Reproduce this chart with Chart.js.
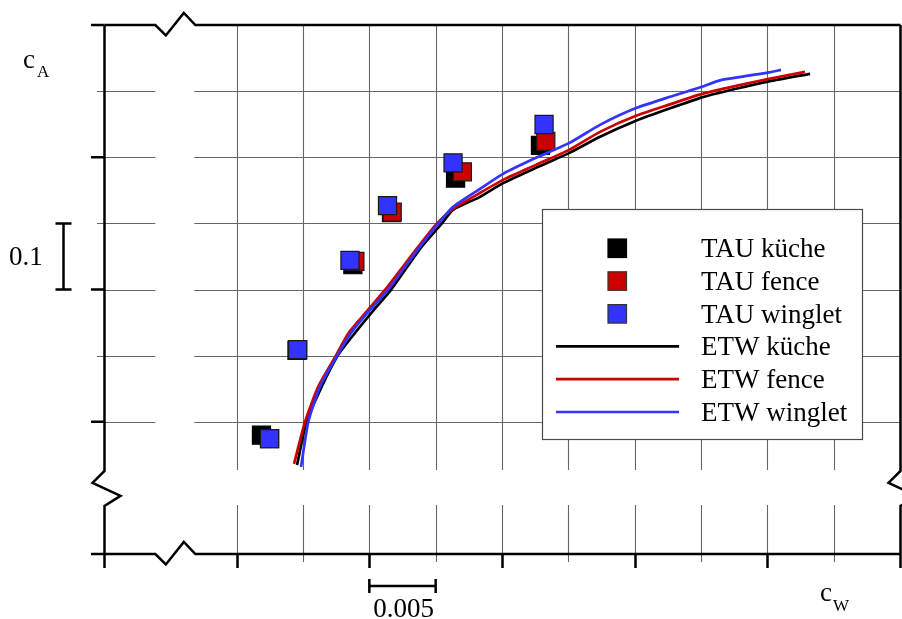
<!DOCTYPE html>
<html>
<head>
<meta charset="utf-8">
<script src="https://cdn.jsdelivr.net/npm/chart.js@4/dist/chart.umd.min.js"></script>
<style>
html, body { margin: 0; padding: 0; background: #fff; }
canvas { display: block; }
</style>
</head>
<body>
<canvas id="polar" width="902" height="619"></canvas>
<script>
// Drag polar c_A over c_W: TAU computations (squares) and ETW measurements (lines)
const cwRange = [0, 0.06];
const caRange = [0, 0.8];
const cwStep = 0.005;
const caStep = 0.1;
const cwBreak = 0.005;           // broken section of the c_W axis
const caBreak = 0.1;             // broken section of the c_A axis
const cwScaleBar = [0.020, 0.025];
const caScaleBar = [0.4, 0.5];
const cwScaleLabel = '0.005';
const caScaleLabel = '0.1';

const seriesNames = ['TAU küche', 'TAU fence', 'TAU winglet', 'ETW küche', 'ETW fence', 'ETW winglet'];
const seriesColors = ['#000000', '#cc0000', '#3333ff'];

// TAU results
const tauKuecheCw  = [0.01187, 0.01455, 0.01876, 0.02167, 0.02650, 0.03290];
const tauKuecheCa  = [0.1797, 0.3079, 0.4375, 0.5162, 0.5685, 0.6180];
const tauFenceCw   = [0.01248, 0.01459, 0.01891, 0.02172, 0.02701, 0.03330];
const tauFenceCa   = [0.1744, 0.3086, 0.4425, 0.5171, 0.5779, 0.6241];
const tauWingletCw = [0.01248, 0.01460, 0.01854, 0.02137, 0.02631, 0.03317];
const tauWingletCa = [0.1744, 0.3091, 0.4440, 0.5268, 0.5915, 0.6495];

// ETW measurements
const etwKuecheCw  = [0.01455, 0.01527, 0.01641, 0.01760, 0.01892, 0.02028, 0.02163, 0.02393, 0.02544, 0.02631, 0.02834,
                      0.03008, 0.03256, 0.03505, 0.03739, 0.04010, 0.04267, 0.04508, 0.04764, 0.05013, 0.05322];
const etwKuecheCa  = [0.1346, 0.1997, 0.2531, 0.2995, 0.3343, 0.3676, 0.3994, 0.4644, 0.4992, 0.5204, 0.5401,
                      0.5608, 0.5840, 0.6062, 0.6309, 0.6551, 0.6740, 0.6906, 0.7035, 0.7148, 0.7262];
const etwFenceCw   = [0.01432, 0.01515, 0.01615, 0.01747, 0.01842, 0.01983, 0.02118, 0.02369, 0.02508, 0.02631, 0.02834,
                      0.03008, 0.03256, 0.03505, 0.03739, 0.04010, 0.04267, 0.04508, 0.04764, 0.05013, 0.05284];
const etwFenceCa   = [0.1362, 0.1997, 0.2531, 0.2995, 0.3339, 0.3676, 0.3994, 0.4649, 0.4997, 0.5219, 0.5461,
                      0.5658, 0.5885, 0.6112, 0.6384, 0.6626, 0.6800, 0.6959, 0.7080, 0.7186, 0.7292];
const etwWingletCw = [0.01485, 0.01540, 0.01628, 0.01756, 0.01862, 0.01998, 0.02141, 0.02382, 0.02520, 0.02631, 0.02834,
                      0.03008, 0.03256, 0.03505, 0.03739, 0.04010, 0.04267, 0.04508, 0.04643, 0.05013, 0.05103];
const etwWingletCa = [0.1316, 0.1997, 0.2531, 0.2995, 0.3343, 0.3676, 0.3994, 0.4649, 0.4997, 0.5250, 0.5522,
                      0.5749, 0.5991, 0.6213, 0.6490, 0.6743, 0.6914, 0.7065, 0.7163, 0.7284, 0.7322];

const toPoints = (xs, ys) => xs.map((x, i) => ({ x, y: ys[i] }));
const FONT = '"Liberation Serif", "Times New Roman", serif';

function squareSet(label, xs, ys, color, border, order) {
  return {
    label, data: toPoints(xs, ys), showLine: false, order,
    pointStyle: 'rect', pointRadius: 12.8, pointHoverRadius: 12.8,
    backgroundColor: color, borderColor: border, borderWidth: 1.2
  };
}
function lineSet(label, xs, ys, color, order) {
  return {
    label, data: toPoints(xs, ys), showLine: true, order,
    pointRadius: 0, borderColor: color, backgroundColor: color,
    borderWidth: 2.7, tension: 0.2, fill: false
  };
}

const datasets = [
  squareSet(seriesNames[0], tauKuecheCw, tauKuecheCa, seriesColors[0], '#000', 6),
  squareSet(seriesNames[1], tauFenceCw, tauFenceCa, seriesColors[1], '#1a1a1a', 5),
  squareSet(seriesNames[2], tauWingletCw, tauWingletCa, seriesColors[2], '#1a1a1a', 4),
  lineSet(seriesNames[3], etwKuecheCw, etwKuecheCa, seriesColors[0], 3),
  lineSet(seriesNames[4], etwFenceCw, etwFenceCa, seriesColors[1], 2),
  lineSet(seriesNames[5], etwWingletCw, etwWingletCa, seriesColors[2], 1)
];

// Grid with axis breaks, framed axes, scale bars, labels and legend box
const polarFrame = {
  id: 'polarFrame',
  beforeDatasetsDraw(chart) {
    const { ctx, chartArea: a, scales: { x, y } } = chart;
    const xb = x.getPixelForValue(cwBreak);
    const yb = y.getPixelForValue(caBreak);
    ctx.save();
    ctx.strokeStyle = '#666';
    ctx.lineWidth = 1.1;
    const nX = Math.round((cwRange[1] - cwRange[0]) / cwStep);
    for (let i = 1; i < nX; i++) {
      const v = cwRange[0] + i * cwStep;
      if (Math.abs(v - cwBreak) < 1e-9) continue;
      const px = Math.round(x.getPixelForValue(v)) + 0.5;
      const ext = i % 2 === 0 ? 0 : 8;
      ctx.beginPath();
      ctx.moveTo(px, a.top); ctx.lineTo(px, yb - 18);
      ctx.moveTo(px, yb + 17); ctx.lineTo(px, a.bottom + ext);
      ctx.stroke();
    }
    const nY = Math.round((caRange[1] - caRange[0]) / caStep);
    for (let j = 1; j < nY; j++) {
      const v = caRange[0] + j * caStep;
      if (Math.abs(v - caBreak) < 1e-9) continue;
      const py = Math.round(y.getPixelForValue(v)) + 0.5;
      const ext = j % 2 === 0 ? 0 : 7;
      ctx.beginPath();
      ctx.moveTo(a.left - ext, py); ctx.lineTo(xb - 15, py);
      ctx.moveTo(xb + 24, py); ctx.lineTo(a.right, py);
      ctx.stroke();
    }
    ctx.restore();
  },
  afterDatasetsDraw(chart) {
    const { ctx, chartArea: a, scales: { x, y } } = chart;
    const xb = x.getPixelForValue(cwBreak);
    const yb = y.getPixelForValue(caBreak);
    const L = a.left + 0.5, R = a.right + 0.5, T = a.top, B = a.bottom;
    ctx.save();
    ctx.strokeStyle = '#000';
    ctx.lineWidth = 2.5;
    ctx.lineJoin = 'miter';

    const hBreak = (yy) => {
      ctx.beginPath();
      ctx.moveTo(L, yy); ctx.lineTo(xb - 15, yy);
      ctx.lineTo(xb - 4.5, yy + 10.5); ctx.lineTo(xb + 13.5, yy - 12);
      ctx.lineTo(xb + 25, yy); ctx.lineTo(R, yy);
      ctx.stroke();
    };
    const vBreak = (xx) => {
      ctx.beginPath();
      ctx.moveTo(xx, T); ctx.lineTo(xx, yb - 17);
      ctx.lineTo(xx - 12, yb - 5); ctx.lineTo(xx + 16, yb + 8);
      ctx.lineTo(xx, yb + 18); ctx.lineTo(xx, B);
      ctx.stroke();
    };
    hBreak(T); hBreak(B); vBreak(L); vBreak(R);

    // major ticks
    ctx.beginPath();
    for (let v = cwRange[0]; v <= cwRange[1] + 1e-9; v += 2 * cwStep) {
      const px = Math.round(x.getPixelForValue(v)) + 0.5;
      ctx.moveTo(px, B); ctx.lineTo(px, B + 14);
    }
    for (let v = caRange[0]; v <= caRange[1] + 1e-9; v += 2 * caStep) {
      const py = y.getPixelForValue(v);
      ctx.moveTo(L, py); ctx.lineTo(a.left - 13, py);
    }
    ctx.stroke();

    // scale bars
    const bx0 = x.getPixelForValue(cwScaleBar[0]), bx1 = x.getPixelForValue(cwScaleBar[1]);
    const by = B + 32;
    ctx.beginPath();
    ctx.moveTo(bx0, by); ctx.lineTo(bx1, by);
    ctx.moveTo(bx0, by - 7); ctx.lineTo(bx0, by + 7);
    ctx.moveTo(bx1, by - 7); ctx.lineTo(bx1, by + 7);
    const vy0 = y.getPixelForValue(caScaleBar[0]), vy1 = y.getPixelForValue(caScaleBar[1]);
    const vx = 63.5;
    ctx.moveTo(vx, vy0); ctx.lineTo(vx, vy1);
    ctx.moveTo(vx - 8, vy0); ctx.lineTo(vx + 8, vy0);
    ctx.moveTo(vx - 8, vy1); ctx.lineTo(vx + 8, vy1);
    ctx.stroke();

    ctx.fillStyle = '#000';
    ctx.font = '27px ' + FONT;
    ctx.textBaseline = 'alphabetic';
    ctx.textAlign = 'center';
    ctx.fillText(cwScaleLabel, (bx0 + bx1) / 2 + 1, 617);
    ctx.textAlign = 'left';
    ctx.fillText(caScaleLabel, 9, (vy0 + vy1) / 2 + 8.5);

    // axis titles
    ctx.fillText('c', 23, 68);
    ctx.fillText('c', 820, 601);
    ctx.font = '17px ' + FONT;
    ctx.fillText('A', 37, 77);
    ctx.fillText('W', 833, 611);

    // legend box
    const lx = 542, ly = 209, lw = 320, lh = 230;
    ctx.fillStyle = '#fff';
    ctx.fillRect(lx, ly, lw, lh);
    ctx.strokeStyle = '#4a4a4a';
    ctx.lineWidth = 1.2;
    ctx.strokeRect(lx + 0.5, ly + 0.5, lw, lh);
    const sets = chart.data.datasets;
    sets.forEach((ds, i) => {
      const ry = ly + 39 + i * 32.8;
      if (ds.showLine) {
        ctx.strokeStyle = ds.borderColor;
        ctx.lineWidth = 2.7;
        ctx.beginPath();
        ctx.moveTo(556, ry); ctx.lineTo(679, ry);
        ctx.stroke();
      } else {
        ctx.fillStyle = ds.backgroundColor;
        ctx.fillRect(608, ry - 9, 18.5, 18.5);
        ctx.strokeStyle = i === 0 ? '#000' : '#333';
        ctx.lineWidth = 1.2;
        ctx.strokeRect(608, ry - 9, 18.5, 18.5);
      }
      ctx.fillStyle = '#000';
      ctx.font = '27px ' + FONT;
      ctx.textAlign = 'left';
      ctx.fillText(ds.label, 701, ry + 9);
    });
    ctx.restore();
  }
};

new Chart(document.getElementById('polar'), {
  type: 'scatter',
  data: { datasets },
  options: {
    responsive: false,
    animation: false,
    devicePixelRatio: 1,
    layout: { autoPadding: false, padding: { left: 104, top: 25, right: 2, bottom: 65 } },
    plugins: { legend: { display: false }, tooltip: { enabled: false } },
    scales: {
      x: { type: 'linear', min: cwRange[0], max: cwRange[1], display: false },
      y: { type: 'linear', min: caRange[0], max: caRange[1], display: false }
    }
  },
  plugins: [polarFrame]
});
</script>
</body>
</html>
